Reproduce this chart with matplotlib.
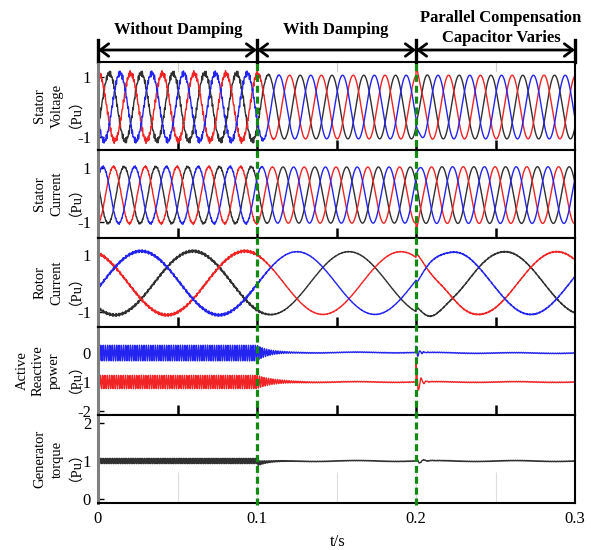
import numpy as np
import matplotlib
matplotlib.use("Agg")
import matplotlib.pyplot as plt
from matplotlib.lines import Line2D
from matplotlib.transforms import blended_transform_factory

plt.rcParams["font.family"] = ["Liberation Serif", "Noto Sans CJK SC"]

# simulation stages
t_end = 0.3
event_times = [0.1, 0.2]
stage_titles = ["Without Damping", "With Damping", "Parallel Compensation\nCapacitor Varies"]
time_ticks = [0, 0.1, 0.2, 0.3]
time_tick_labels = ["0", "0.1", "0.2", "0.3"]

grid_freq = 50.0   # Hz, stator side
slip_freq = 10.2   # Hz, rotor side

# stator voltage (pu), one value per stage
sv_amp = [1.12, 1.06, 1.06]
sv_ripple = [0.1, 0.0, 0.0]
sv_peak_time = 0.0005
sv_kick = {"red": 0.3, "blue": -0.2, "black": 0.1}

# stator current (pu)
sc_amp = [1.05, 1.04, 1.05]
sc_ripple = [0.04, 0.0, 0.0]
sc_peak_time = 0.0097
sc_kick = {"red": -0.25, "blue": 0.1, "black": 0.1}

# rotor current (pu)
rc_amp = [1.12, 1.1, 1.1]
rc_ripple = [0.05, 0.01, 0.02]
rc_peak_time = -0.0056
rc_kick = {"red": 0.15, "blue": -0.12, "black": 0.18}

# active / reactive power (pu)
p_level = [0.0, 0.02, 0.0]
p_ripple = [0.27, 0.012, 0.012]
q_level = [-1.0, -1.0, -1.0]
q_ripple = [0.23, 0.012, 0.012]
p_kick = 0.22
q_kick = 0.65

# generator torque (pu)
te_level = [1.0, 1.0, 1.0]
te_ripple = [0.07, 0.008, 0.008]
te_dip = -0.06
te_kick = 0.12

colors = {"red": "#f02424", "blue": "#2424f0", "black": "#303030"}
stator_order = {"red": 0, "black": 1, "blue": 2}
rotor_order = {"red": 0, "blue": 1, "black": 2}

t = np.linspace(0, t_end, 12001)


def settle(values, tau):
    out = np.full_like(t, values[0])
    for k, te in enumerate(event_times):
        dt = np.clip(t - te, 0, None)
        out += (values[k + 1] - values[k]) * (t >= te) * (1 - np.exp(-dt / tau))
    return out


def kick(size, te, freq, tau):
    dt = np.clip(t - te, 0, None)
    return np.where(t >= te, size * np.exp(-dt / tau) * np.cos(2 * np.pi * freq * dt), 0.0)


def three_phase(amp, freq, peak_time, order, ripple, kicks, kick_freq, kick_tau):
    env = settle(amp, 0.006)
    rip = settle(ripple, 0.006)
    waves = {}
    for c, k in order.items():
        ph = 2 * np.pi * freq * (t - peak_time) - 2 * np.pi * k / 3
        w = env * np.cos(ph)
        w += rip * (0.6 * np.sin(2 * np.pi * 1150 * t + k) + 0.4 * np.sin(2 * np.pi * 1650 * t + 2 * k))
        w += kick(kicks[c], event_times[1], kick_freq, kick_tau)
        waves[c] = w
    return waves


sv = three_phase(sv_amp, grid_freq, sv_peak_time, stator_order, sv_ripple, sv_kick, 150, 0.003)
sc = three_phase(sc_amp, grid_freq, sc_peak_time, stator_order, sc_ripple, sc_kick, 120, 0.003)
rc = three_phase(rc_amp, slip_freq, rc_peak_time, rotor_order, rc_ripple, rc_kick, 45, 0.012)

wobble = 0.012 * np.sin(2 * np.pi * 20 * t) * (t >= event_times[0])
p = settle(p_level, 0.02) + settle(p_ripple, 0.007) * np.sin(2 * np.pi * 700 * t) + wobble
p += kick(p_kick, event_times[1], 400, 0.002)
q = settle(q_level, 0.02) + settle(q_ripple, 0.01) * np.sin(2 * np.pi * 700 * t + 1) + wobble
q += kick(q_kick, event_times[1], 300, 0.002)

te_curve = settle(te_level, 0.01) + settle(te_ripple, 0.006) * np.sin(2 * np.pi * 900 * t) + wobble
te_curve += kick(te_dip, event_times[0], 0, 0.01) + kick(te_kick, event_times[1], 200, 0.003)

# layout in pixels
W, H = 591, 550
left, right = 98, 575
rows = [(62, 150), (150, 238), (238, 327), (327, 415), (415, 503)]

fig = plt.figure(figsize=(W / 100, H / 100), dpi=100)
axes = []
for top, bot in rows:
    ax = fig.add_axes([left / W, 1 - bot / H, (right - left) / W, (bot - top) / H])
    ax.set_xlim(0, t_end)
    for s in ["top", "bottom", "right"]:
        ax.spines[s].set_linewidth(1.5)
    ax.spines["left"].set_color("#808080")
    ax.spines["left"].set_linewidth(2.2)
    ax.tick_params(axis="y", direction="in", length=4, width=1, labelsize=12, pad=5)
    axes.append(ax)

lw = 1.0
for c in ["black", "red", "blue"]:
    axes[0].plot(t, sv[c], color=colors[c], lw=lw)
    axes[1].plot(t, sc[c], color=colors[c], lw=lw)
    axes[2].plot(t, rc[c], color=colors[c], lw=lw)
axes[3].plot(t, p, color=colors["blue"], lw=lw)
axes[3].plot(t, q, color=colors["red"], lw=lw)
axes[4].plot(t, te_curve, color=colors["black"], lw=lw)

limits = [(-1.43, 1.5), (-1.59, 1.67), (-1.54, 1.58), (-2.14, 0.9), (-0.105, 2.21)]
yticks = [[-1, 1], [-1, 1], [-1, 1], [-2, -1, 0], [0, 1, 2]]
ylabels = [["Stator", "Voltage", "（Pu）"], ["Stator", "Current", "（Pu）"],
           ["Rotor", "Current", "（Pu）"], ["Active", "Reactive", "power", "（Pu）"],
           ["Generator", "torque", "（Pu）"]]
for ax, lim, yt, lines in zip(axes, limits, yticks, ylabels):
    ax.set_ylim(*lim)
    ax.set_yticks(yt)
    ax.set_yticklabels([str(v) for v in yt])
    pos = ax.get_position()
    yc = (pos.y0 + pos.y1) / 2
    # stacked rotated lines; the unit line sits closest to the axis
    if len(lines) == 4:
        xs = [22, 38, 54, 68]
    else:
        xs = [40, 57, 68]
    for x, txt in zip(xs, lines):
        fig.text(x / W, yc, txt, rotation=90, ha="center", va="center", fontsize=10.5)

for ax in axes[:4]:
    ax.set_xticks([0.05, 0.1, 0.15, 0.2, 0.25])
    ax.tick_params(axis="x", direction="inout", length=14, width=1.8, labelbottom=False)

ax5 = axes[4]
ax5.set_xticks(time_ticks)
ax5.set_xticklabels(time_tick_labels)
ax5.set_xticks([0.05, 0.15, 0.25], minor=True)
ax5.tick_params(axis="x", which="both", direction="in", length=22, width=0.8,
                color="#dddddd", labelsize=12, pad=6)
fig.text(338 / W, 1 - 542 / H, "t/s", ha="center", va="center", fontsize=12)

# stage arrows above the top panel
ax1 = axes[0]
trans = ax1.get_xaxis_transform()
for x in [0.05, 0.15, 0.25]:
    ax1.plot([x, x], [0.9, 1.0], transform=trans, color="#cccccc", lw=0.8)
bounds = [0.0] + event_times + [t_end]
arrow_y = 1 + 12 / 88
for a, b in zip(bounds[:-1], bounds[1:]):
    ax1.annotate("", xy=(b, arrow_y), xytext=(a, arrow_y), xycoords=trans, textcoords=trans,
                 arrowprops=dict(arrowstyle="<->,head_length=0.6,head_width=0.45", lw=2,
                                 mutation_scale=10, shrinkA=0, shrinkB=0, color="black"),
                 annotation_clip=False)
for x in bounds:
    ax1.plot([x, x], [1.0, 1.25], transform=trans, color="black", lw=2.4, clip_on=False)

title_pos = [(178, 30), (336, 30), (501, 28)]
for title, (x, y) in zip(stage_titles, title_pos):
    fig.text(x / W, 1 - y / H, title, ha="center", va="center", fontsize=12,
             fontweight="bold", linespacing=1.25)

# event markers across all panels
vtrans = blended_transform_factory(ax1.transData, fig.transFigure)
for x in event_times:
    fig.add_artist(Line2D([x, x], [1 - 505 / H, 1 - 62 / H], transform=vtrans,
                          color="#128a12", lw=2.3, dashes=(2.2, 1.2)))

fig.savefig("out.png", dpi=100)
